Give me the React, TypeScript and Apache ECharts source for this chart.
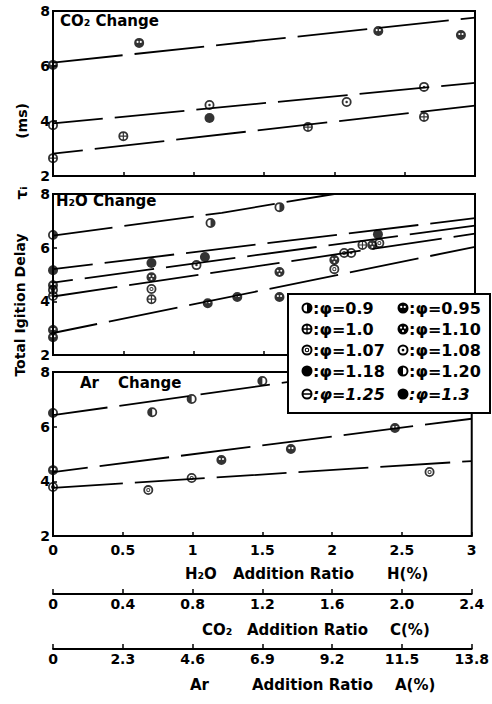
import React, { useEffect, useRef } from "react";
import * as echarts from "echarts";

type Pt = [number, number];

// ---------- axis ranges ----------
const H2O_MAX = 3;
const H2O_STEP = 0.5;
const CO2_MAX = 2.4;
const CO2_STEP = 0.4;
const AR_MAX = 13.8;
const AR_STEP = 2.3;
const Y_MIN = 2;
const Y_MAX = 8;
const Y_STEP = 2;

// ---------- top panel: CO2 change (x = C %) ----------
const co2Phi095: Pt[] = [[0, 6.04], [0.49, 6.84], [1.85, 7.27], [2.32, 7.13]];
const co2Phi108: Pt[] = [[0, 3.85], [0.89, 4.58], [1.67, 4.69], [2.11, 5.24]];
const co2Phi100: Pt[] = [[0, 2.65], [0.4, 3.45], [1.45, 3.78], [2.11, 4.15]];
const co2Phi118: Pt[] = [[0.89, 4.11]];
const co2Fit095: Pt[] = [[0, 6.12], [2.4, 7.76]];
const co2Fit108: Pt[] = [[0, 3.91], [2.4, 5.39]];
const co2Fit100: Pt[] = [[0, 2.81], [2.4, 4.56]];

// ---------- middle panel: H2O change (x = H %) ----------
const h2oPhi090: Pt[] = [[0, 6.47], [1.12, 6.92], [1.61, 7.51]];
const h2oPhi118: Pt[] = [[0, 5.16], [0.7, 5.43], [1.08, 5.65], [2.31, 6.5]];
const h2oPhi110: Pt[] = [[0, 4.6], [0.7, 4.9], [1.61, 5.09], [2.0, 5.54], [2.27, 6.1]];
const h2oPhi108: Pt[] = [[1.02, 5.35], [2.12, 5.8]];
const h2oPhi107: Pt[] = [[0, 4.42], [0.7, 4.46], [2.0, 5.2], [2.07, 5.8], [2.32, 6.17]];
const h2oPhi100: Pt[] = [[0, 4.2], [0.7, 4.08], [2.2, 6.1]];
const h2oPhi095: Pt[] = [[0, 2.93], [0, 2.66], [1.1, 3.93], [1.31, 4.16], [1.61, 4.16]];
const h2oFit090: Pt[] = [[0, 6.45], [1.2, 7.3], [2.0, 8.0]];
const h2oFit118: Pt[] = [[0, 5.2], [3, 7.1]];
const h2oFit110: Pt[] = [[0, 4.7], [3, 6.82]];
const h2oFit107: Pt[] = [[0, 4.18], [3, 6.52]];
const h2oFit095: Pt[] = [[0, 2.82], [3, 6.03]];

// ---------- bottom panel: Ar change (x = A %) ----------
const arPhi120: Pt[] = [[0, 6.5], [3.27, 6.53], [4.57, 7.01], [6.9, 7.67]];
const arPhi095: Pt[] = [[0, 4.41], [5.55, 4.78], [7.84, 5.18], [11.27, 5.95]];
const arPhi107: Pt[] = [[0, 3.79], [3.14, 3.68], [4.57, 4.12], [12.41, 4.34]];
const arFit120: Pt[] = [[0, 6.42], [10.1, 8.0]];
const arFit095: Pt[] = [[0, 4.34], [13.8, 6.29]];
const arFit107: Pt[] = [[0, 3.76], [13.8, 4.74]];

// ---------- legend ----------
const legendKeys = ["p090", "p095", "p100", "p110", "p107", "p108", "p118", "p120", "p125", "p130"];
const legendPhi = ["0.9", "0.95", "1.0", "1.10", "1.07", "1.08", "1.18", "1.20", "1.25", "1.3"];

// ---------- marker glyphs (20x20 box) ----------
const circ = (cx: number, cy: number, r: number, cw: boolean) => {
  const s = cw ? 1 : 0;
  return `M${cx - r},${cy} A${r},${r} 0 1,${s} ${cx + r},${cy} A${r},${r} 0 1,${s} ${cx - r},${cy} Z`;
};
const IR = 6.4;
const RING = circ(10, 10, 10, true) + " " + circ(10, 10, IR, false);
const DISK = circ(10, 10, 10, true);
const MARK: Record<string, string> = {
  p090: RING + ` M10,${10 - IR} A${IR},${IR} 0 0,1 10,${10 + IR} Z`,
  p095: DISK + " " + circ(6.8, 8, 2.1, false) + " " + circ(13.2, 8, 2.1, false),
  p100: RING + " M8.8,3 H11.2 V17 H8.8 Z M3,8.8 H17 V11.2 H3 Z",
  p107: RING + " " + circ(10, 10, 4.2, true) + " " + circ(10, 10, 2.2, false),
  p108: RING + " " + circ(10, 10, 2.5, true),
  p110: DISK + " " + circ(6.5, 7.5, 2, false) + " " + circ(13.5, 7.5, 2, false) + " " + circ(10, 13.8, 2, false),
  p118: DISK,
  p120: RING + ` M10,${10 - IR} A${IR},${IR} 0 0,0 10,${10 + IR} Z`,
  p125: RING + " M3,8.8 H17 V11.2 H3 Z",
  p130: DISK,
};
legendKeys.forEach((k) => {
  echarts.graphic.registerShape("mk_" + k, echarts.graphic.extendPath(MARK[k], {}) as any);
});

const FONT = "DejaVu Sans";
const BLACK = "#000";

const scat = (data: Pt[], mk: string, xi: number, yi: number) => ({
  type: "scatter",
  xAxisIndex: xi,
  yAxisIndex: yi,
  data,
  symbol: "path://" + MARK[mk],
  symbolSize: 10,
  itemStyle: { color: BLACK },
  z: 4,
  silent: true,
});
const fit = (data: Pt[], xi: number, yi: number, off = 0) => ({
  type: "line",
  xAxisIndex: xi,
  yAxisIndex: yi,
  data,
  showSymbol: false,
  symbol: "none",
  lineStyle: { color: BLACK, width: 1.8, type: [70, 12], dashOffset: off },
  z: 3,
  silent: true,
});

const labelFont = { fontFamily: FONT, fontWeight: "bold" as const, fontSize: 14, color: BLACK };
const decFmt = (v: number) => (v === 0 ? "0" : v.toFixed(1));

const dataX = (gridIndex: number, max: number, step: number) => ({
  gridIndex,
  type: "value",
  min: 0,
  max,
  interval: step,
  position: "bottom",
  axisLine: { show: false },
  axisTick: { show: true, inside: true, length: 4, lineStyle: { color: BLACK, width: 1.5 } },
  axisLabel: { show: false },
  splitLine: { show: false },
});
const scaleX = (max: number, step: number, offset: number, fmt?: (v: number) => string) => ({
  gridIndex: 2,
  type: "value",
  min: 0,
  max,
  interval: step,
  position: "bottom",
  offset,
  axisLine: { show: true, onZero: false, lineStyle: { color: BLACK, width: 1.8 } },
  axisTick: { show: true, inside: true, length: 5, lineStyle: { color: BLACK, width: 1.5 } },
  axisLabel: { show: true, margin: 3, showMinLabel: true, showMaxLabel: true, interval: 0, formatter: fmt, ...labelFont },
  splitLine: { show: false },
});
const yAx = (gridIndex: number) => ({
  gridIndex,
  type: "value",
  min: Y_MIN,
  max: Y_MAX,
  interval: Y_STEP,
  axisLine: { show: false },
  axisTick: { show: true, inside: true, length: 4, lineStyle: { color: BLACK, width: 1.5 } },
  axisLabel: { show: true, margin: 3, showMinLabel: true, showMaxLabel: true, ...labelFont },
  splitLine: { show: false },
});

const txt = (text: string, x: number, y: number, size = 15, extra: any = {}) => ({
  type: "text",
  x,
  y,
  z: 50,
  silent: true,
  style: {
    text,
    fill: BLACK,
    font: `bold ${size}px "${FONT}"`,
    align: "left",
    verticalAlign: "middle",
    textAlign: "left",
    textVerticalAlign: "middle",
    ...extra,
  },
});
const vtxt = (text: string, x: number, y: number, size: number) => ({
  ...txt(text, x, y, size, { align: "center", textAlign: "center" }),
  rotation: Math.PI / 2,
});

function buildLegend() {
  const els: any[] = [
    {
      type: "rect",
      z: 100,
      silent: true,
      shape: { x: 288, y: 294, width: 202, height: 119 },
      style: { fill: "#fff", stroke: BLACK, lineWidth: 2 },
    },
  ];
  const rows = [308, 329, 350, 371, 394];
  const cols = [307, 403];
  legendKeys.forEach((k, i) => {
    const r = Math.floor(i / 2);
    const c = i % 2;
    const cx = cols[c];
    const cy = rows[r];
    els.push({
      type: "mk_" + k,
      x: cx - 5.5,
      y: cy - 5.5,
      scaleX: 0.55,
      scaleY: 0.55,
      z: 101,
      silent: true,
      style: { fill: BLACK },
    });
    els.push({
      type: "text",
      x: cx + 6,
      y: cy,
      z: 101,
      silent: true,
      style: {
        text: ":φ=" + legendPhi[i],
        fill: BLACK,
        font: `${r === 4 ? "italic " : ""}bold 16px "${FONT}"`,
        align: "left",
        verticalAlign: "middle",
        textAlign: "left",
        textVerticalAlign: "middle",
      },
    });
  });
  return els;
}

export default function App() {
  const ref = useRef<HTMLDivElement>(null);
  useEffect(() => {
    if (!ref.current) return;
    const chart = echarts.init(ref.current, undefined, { renderer: "svg" });
    const gridBase = { left: 53, right: 17, show: true, borderColor: BLACK, borderWidth: 2, backgroundColor: "transparent" };
    const option: any = {
      animation: false,
      backgroundColor: "#fff",
      textStyle: { fontFamily: FONT },
      grid: [
        { ...gridBase, top: 11, height: 165 },
        { ...gridBase, top: 194, height: 161 },
        { ...gridBase, top: 372, height: 164 },
      ],
      xAxis: [
        dataX(0, CO2_MAX, CO2_STEP),
        dataX(1, H2O_MAX, H2O_STEP),
        dataX(2, AR_MAX, AR_STEP),
        {
          gridIndex: 2,
          type: "value",
          min: 0,
          max: H2O_MAX,
          interval: H2O_STEP,
          position: "bottom",
          axisLine: { show: false, onZero: false },
          axisTick: { show: false },
          axisLabel: { show: true, margin: 7, showMinLabel: true, showMaxLabel: true, interval: 0, ...labelFont },
          splitLine: { show: false },
        },
        scaleX(CO2_MAX, CO2_STEP, 58, decFmt),
        scaleX(AR_MAX, AR_STEP, 113, decFmt),
      ],
      yAxis: [yAx(0), yAx(1), yAx(2)],
      series: [
        fit(co2Fit095, 0, 0, 0),
        fit(co2Fit108, 0, 0, 20),
        fit(co2Fit100, 0, 0, 40),
        scat(co2Phi095, "p095", 0, 0),
        scat(co2Phi108, "p108", 0, 0),
        scat(co2Phi100, "p100", 0, 0),
        scat(co2Phi118, "p118", 0, 0),

        fit(h2oFit090, 1, 1, 10),
        fit(h2oFit118, 1, 1, 30),
        fit(h2oFit110, 1, 1, 50),
        fit(h2oFit107, 1, 1, 5),
        fit(h2oFit095, 1, 1, 25),
        scat(h2oPhi090, "p090", 1, 1),
        scat(h2oPhi118, "p118", 1, 1),
        scat(h2oPhi110, "p110", 1, 1),
        scat(h2oPhi108, "p108", 1, 1),
        scat(h2oPhi107, "p107", 1, 1),
        scat(h2oPhi100, "p100", 1, 1),
        scat(h2oPhi095, "p095", 1, 1),

        fit(arFit120, 2, 2, 15),
        fit(arFit095, 2, 2, 35),
        fit(arFit107, 2, 2, 0),
        scat(arPhi120, "p120", 2, 2),
        scat(arPhi095, "p095", 2, 2),
        scat(arPhi107, "p107", 2, 2),
      ],
      graphic: [
        txt("CO₂ Change", 60, 21, 15),
        txt("H₂O Change", 56, 201, 15),
        txt("Ar", 80, 383, 15),
        txt("Change", 118, 383, 15),
        vtxt("Total Igition Delay", 20, 305, 14),
        vtxt("τᵢ", 22, 193, 15),
        vtxt("(ms)", 22, 121, 14),
        txt("H₂O", 185, 574, 15),
        txt("Addition Ratio", 233, 574, 15),
        txt("H(%)", 387, 574, 15),
        txt("CO₂", 202, 630, 15),
        txt("Addition Ratio", 247, 630, 15),
        txt("C(%)", 390, 630, 15),
        txt("Ar", 190, 685, 15),
        txt("Addition Ratio", 252, 685, 15),
        txt("A(%)", 395, 685, 15),
        ...buildLegend(),
      ],
    };
    chart.setOption(option);
    return () => chart.dispose();
  }, []);
  return (
    <div
      ref={ref}
      style={{ position: "fixed", left: 0, top: 0, width: 492, height: 704, background: "#fff" }}
    />
  );
}
